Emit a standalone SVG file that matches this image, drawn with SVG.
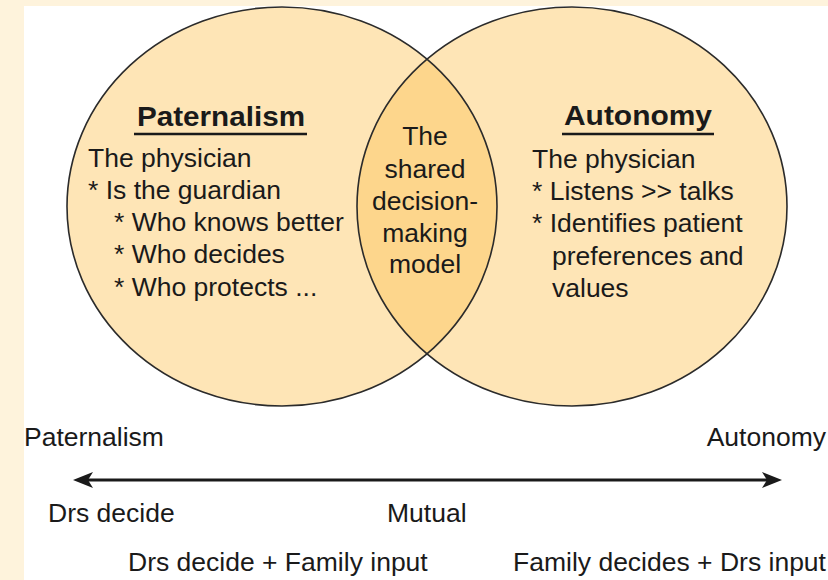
<svg xmlns="http://www.w3.org/2000/svg" width="828" height="580" viewBox="0 0 828 580">
  <style>
    text { font-family: "Liberation Sans", Arial, sans-serif; fill: #1a1a1a; }
    .t { font-size: 26.5px; }
    .b { font-size: 28px; font-weight: bold; }
    .c { text-anchor: middle; }
    .circle { fill: #FEE5B6; stroke: none; }
    .outline { fill: none; stroke: #2b2b2b; stroke-width: 1.6; }
    .ul { stroke: #1a1a1a; stroke-width: 2.5; }
    .axis { stroke: #1a1a1a; stroke-width: 3; fill: none; }
  </style>
  <defs>
    <clipPath id="clipLeft">
      <ellipse cx="282" cy="206.5" rx="215" ry="199.5"/>
    </clipPath>
    <marker id="head" viewBox="0 0 20 16" refX="13" refY="8" markerWidth="20" markerHeight="16" markerUnits="userSpaceOnUse" orient="auto-start-reverse">
      <path d="M20,8 L0,0 L5,8 L0,16 Z" fill="#1a1a1a"/>
    </marker>
  </defs>

  <rect x="0" y="0" width="828" height="580" fill="#FEF3DC"/>
  <rect x="24" y="6" width="804" height="574" fill="#FFFFFF"/>

  <g id="node-paternalism">
    <ellipse class="circle" cx="282" cy="206.5" rx="215" ry="199.5"/>
  </g>
  <g id="node-autonomy">
    <ellipse class="circle" cx="572" cy="206.5" rx="215" ry="199.5"/>
  </g>
  <g id="node-shared">
    <ellipse cx="572" cy="206.5" rx="215" ry="199.5" fill="#FDD68C" clip-path="url(#clipLeft)"/>
  </g>
  <g id="outlines">
    <ellipse class="outline" cx="282" cy="206.5" rx="215" ry="199.5"/>
    <ellipse class="outline" cx="572" cy="206.5" rx="215" ry="199.5"/>
  </g>

  <g id="text-paternalism">
    <text class="b" x="137" y="126" textLength="168" lengthAdjust="spacingAndGlyphs">Paternalism</text>
    <line class="ul" x1="134" y1="134" x2="307" y2="134"/>
    <text class="t" x="88" y="167">The physician</text>
    <text class="t" x="88" y="199">* Is the guardian</text>
    <text class="t" x="114" y="231">* Who knows better</text>
    <text class="t" x="114" y="263">* Who decides</text>
    <text class="t" x="114" y="296">* Who protects ...</text>
  </g>

  <g id="text-autonomy">
    <text class="b" x="564" y="125" textLength="148" lengthAdjust="spacingAndGlyphs">Autonomy</text>
    <line class="ul" x1="562" y1="134" x2="714" y2="134"/>
    <text class="t" x="532" y="168">The physician</text>
    <text class="t" x="532" y="200">* Listens &gt;&gt; talks</text>
    <text class="t" x="532" y="232">* Identifies patient</text>
    <text class="t" x="552" y="265">preferences and</text>
    <text class="t" x="552" y="297">values</text>
  </g>

  <g id="text-shared">
    <text class="t c" x="425" y="145">The</text>
    <text class="t c" x="425" y="178">shared</text>
    <text class="t c" x="425" y="210">decision-</text>
    <text class="t c" x="425" y="242">making</text>
    <text class="t c" x="425" y="273">model</text>
  </g>

  <g id="connectors">
    <line class="axis" x1="80" y1="480" x2="775" y2="480" marker-start="url(#head)" marker-end="url(#head)"/>
  </g>

  <g id="scale-labels">
    <text class="t" x="24" y="446">Paternalism</text>
    <text class="t" x="826" y="446" text-anchor="end">Autonomy</text>
    <text class="t" x="48" y="522">Drs decide</text>
    <text class="t" x="387" y="522">Mutual</text>
    <text class="t" x="128" y="571">Drs decide + Family input</text>
    <text class="t" x="513" y="571">Family decides + Drs input</text>
  </g>
</svg>
